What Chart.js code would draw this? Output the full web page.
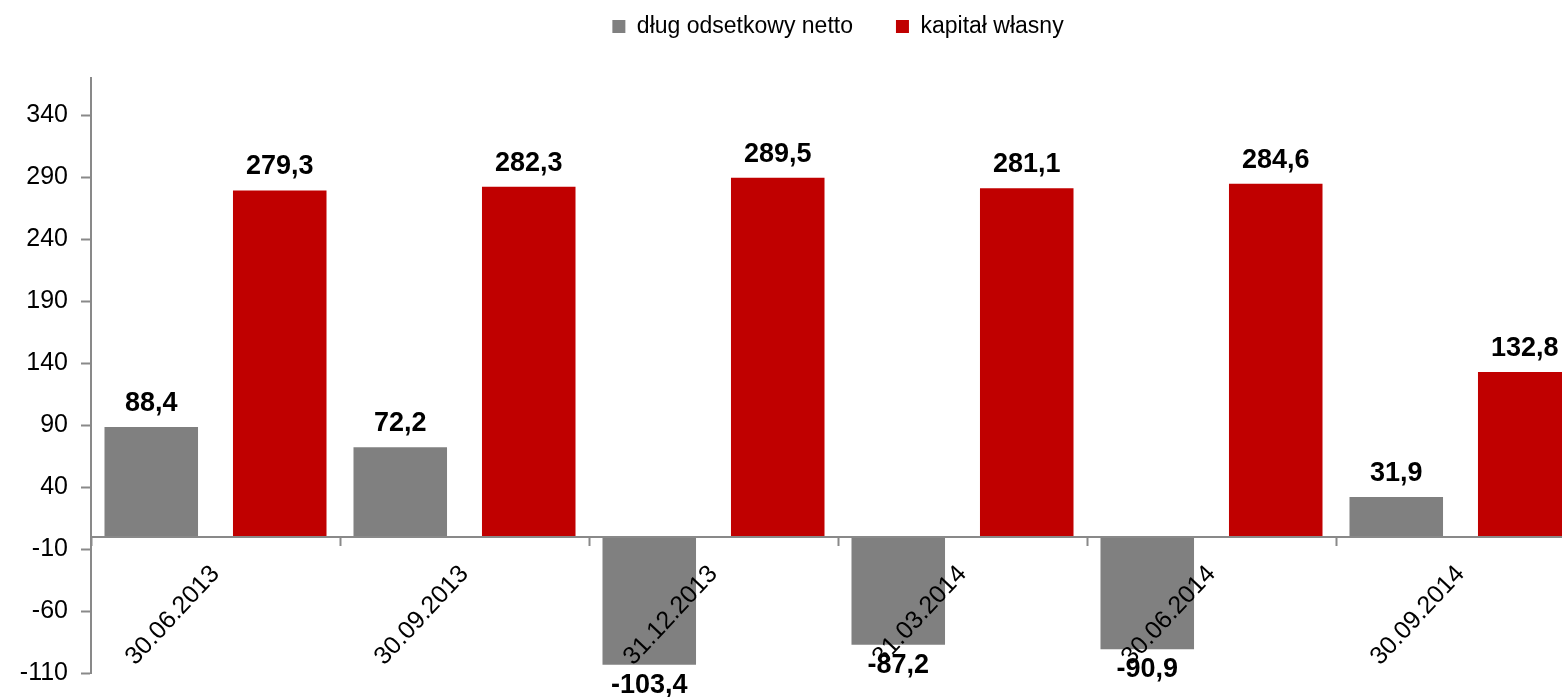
<!DOCTYPE html>
<html lang="pl">
<head>
<meta charset="utf-8">
<title>Dług odsetkowy netto i kapitał własny</title>
<script src="https://cdn.jsdelivr.net/npm/chart.js@4/dist/chart.umd.min.js"></script>
<style>
  html, body { margin: 0; padding: 0; background: #fff; overflow: hidden; }
  #wrap { width: 1562px; height: 697px; overflow: hidden; }
  canvas { display: block; }
</style>
</head>
<body>
<div id="wrap"><canvas id="myChart" width="1600" height="697"></canvas></div>
<script>
const categories = ['30.06.2013', '30.09.2013', '31.12.2013', '31.03.2014', '30.06.2014', '30.09.2014'];
const debtValues = [88.4, 72.2, -103.4, -87.2, -90.9, 31.9];
const equityValues = [279.3, 282.3, 289.5, 281.1, 284.6, 132.8];
const yTicks = [-110, -60, -10, 40, 90, 140, 190, 240, 290, 340];

const axisColor = '#898989';
Chart.defaults.font.family = '"Liberation Sans", Arial, sans-serif';

// extra room between legend and plot
const legendSpacing = {
    id: 'legendSpacing',
    beforeInit(chart) {
        const fit = chart.legend.fit;
        chart.legend.fit = function() {
            fit.call(this);
            this.height += 30;
        };
    }
};

// value labels above / below bars, with decimal comma
const valueLabels = {
    id: 'valueLabels',
    afterDatasetsDraw(chart) {
        const ctx = chart.ctx;
        ctx.save();
        ctx.font = 'bold 27px "Liberation Sans", Arial, sans-serif';
        ctx.fillStyle = '#000';
        ctx.textAlign = 'center';
        ctx.textBaseline = 'alphabetic';
        chart.data.datasets.forEach((ds, i) => {
            chart.getDatasetMeta(i).data.forEach((bar, j) => {
                const v = ds.data[j];
                const y = v >= 0 ? bar.y - 16 : bar.y + 28;
                ctx.fillText(v.toFixed(1).replace('.', ','), bar.x, y);
            });
        });
        ctx.restore();
    }
};

new Chart(document.getElementById('myChart'), {
    type: 'bar',
    data: {
        labels: categories,
        datasets: [{
            label: 'dług odsetkowy netto',
            data: debtValues,
            backgroundColor: '#808080',
            borderWidth: 0,
            categoryPercentage: 1.032,
            barPercentage: 0.728
        }, {
            label: 'kapitał własny',
            data: equityValues,
            backgroundColor: '#C00000',
            borderWidth: 0,
            categoryPercentage: 1.032,
            barPercentage: 0.728
        }]
    },
    options: {
        responsive: false,
        animation: false,
        layout: {
            padding: { top: -28, right: 15, bottom: 24, left: 0 }
        },
        scales: {
            x: {
                position: { y: 0 },
                grid: {
                    offset: true,
                    drawOnChartArea: false,
                    tickLength: 8,
                    tickColor: axisColor,
                    tickWidth: 2
                },
                border: { color: axisColor, width: 2, z: 1 },
                ticks: {
                    z: 2,
                    color: '#000',
                    font: { size: 25 },
                    minRotation: 47,
                    maxRotation: 47,
                    autoSkip: false,
                    padding: 15
                },
                afterFit(scale) {
                    scale.height = 0;
                    scale.paddingLeft = 0;
                    scale.paddingRight = 0;
                }
            },
            y: {
                min: -110,
                max: 370,
                afterBuildTicks(scale) {
                    scale.ticks = yTicks.map(v => ({ value: v }));
                },
                grid: {
                    drawOnChartArea: false,
                    tickLength: 10,
                    tickColor: axisColor,
                    tickWidth: 2
                },
                border: { color: axisColor, width: 2 },
                ticks: {
                    color: '#000',
                    font: { size: 25 },
                    padding: 13
                },
                afterFit(scale) {
                    scale.width = 91;
                    scale.paddingTop = 0;
                    scale.paddingBottom = 0;
                }
            }
        },
        plugins: {
            legend: {
                position: 'top',
                fullSize: false,
                labels: {
                    boxWidth: 13,
                    boxHeight: 13,
                    padding: 43,
                    color: '#000',
                    font: { size: 23 }
                }
            },
            tooltip: { enabled: false }
        }
    },
    plugins: [legendSpacing, valueLabels]
});
</script>
</body>
</html>
